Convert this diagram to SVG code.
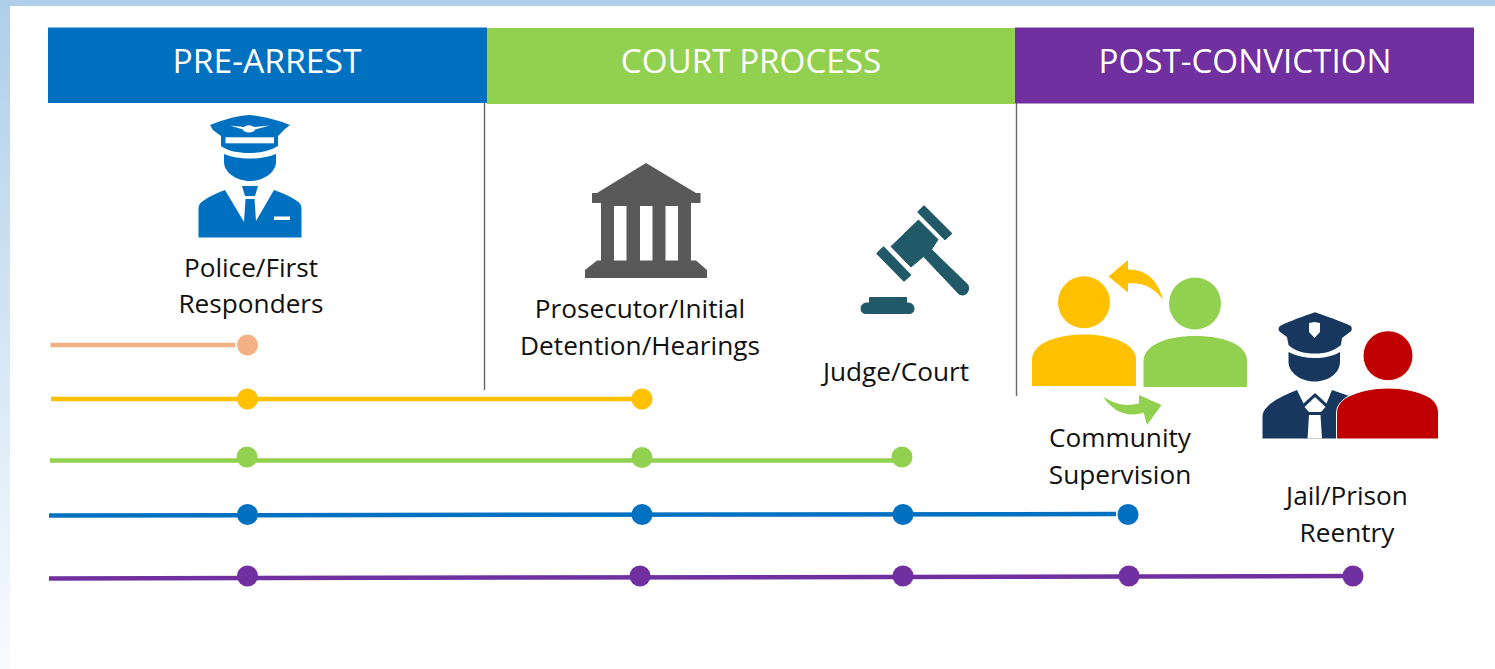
<svg xmlns="http://www.w3.org/2000/svg" width="1495" height="669" viewBox="0 0 1495 669">
<defs>
<linearGradient id="bg" x1="0" y1="0" x2="0" y2="1"><stop offset="0" stop-color="#aecee9"/><stop offset="0.7" stop-color="#e3eff9"/><stop offset="1" stop-color="#f8fbfe"/></linearGradient>
</defs>
<style>
text{font-family:"Open Sans","Noto Sans","Liberation Sans",sans-serif;fill:#111}
.hd{font-size:33.2px;fill:#fff;text-anchor:middle}
.lb{font-size:26.2px;text-anchor:middle}
.ln{fill:none;stroke-width:4.5}
.dv{stroke:#666;stroke-width:1.4}
</style>
<rect width="1495" height="669" fill="#fff"/>
<rect width="10" height="669" fill="url(#bg)"/>
<rect width="1495" height="6" fill="#aecee9"/>
<g id="hdr-pre"><rect x="48" y="27.500" width="439" height="75.500" fill="#0070c0"/><text class="hd" x="267" y="72.500" style="font-size:33.7px">PRE-ARREST</text></g>
<g id="hdr-court"><rect x="487" y="28" width="528" height="76" fill="#92d050"/><text class="hd" x="751" y="72.500">COURT PROCESS</text></g>
<g id="hdr-post"><rect x="1015" y="27.500" width="459" height="76" fill="#7030a0"/><text class="hd" x="1245" y="72.500">POST-CONVICTION</text></g>
<g id="dividers"><line class="dv" x1="484.500" y1="103" x2="484.500" y2="390"/><line class="dv" x1="1016.500" y1="103" x2="1016.500" y2="396"/></g>
<g id="police">
<path fill="#0070c0" d="M249 115C262 116 278 120 290 125L285 129L278 136V146C270 151 260 153 249 153C238 153 228 151 221 146V136L213 130L210 125C222 120 236 116 249 115Z"/>
<rect x="225.500" y="137.300" width="48.500" height="6" fill="#fff"/>
<path fill="#fff" d="M230 125.500L244 127A5.500 3 0 0 1 254 127L270 125.500L255 129.500A6 3 0 0 1 243 129.500Z"/>
<path fill="#0070c0" d="M224 154C238 160 262 160 276 154V162C276 172 264 181 250 181C236 181 224 172 224 162Z"/>
<path fill="#0070c0" d="M225 190L244 222L245.500 199H254.500L256 221L274 190C282 193 290 196 297 201C300 203 301.500 205 301.500 209V237.500H198.500V209C198.500 205 200 203 203 201C210 196 217 193 225 190Z"/>
<path fill="#0070c0" d="M242 186H258L255 196H245Z"/>
<rect x="274" y="216.500" width="16" height="3.500" fill="#fff"/>
<text class="lb"><tspan x="251" y="277">Police/First</tspan><tspan x="251" y="313">Responders</tspan></text>
</g>
<g id="prosecutor">
<path fill="#595959" d="M646 163L696 193H700.500V203H691V260.500H696L707 270V278H585V270L597 260.500H601V203H592V193H597Z"/>
<path fill="#fff" d="M614 206H626.500V260.500H614ZM640 206H652.500V260.500H640ZM665.500 206H678V260.500H665.500Z"/>
<text class="lb"><tspan x="640" y="318">Prosecutor/Initial</tspan><tspan x="640" y="355">Detention/Hearings</tspan></text>
</g>
<g id="judge" fill="#215968" stroke="#215968" stroke-width="2" stroke-linejoin="round">
<path d="M918.500 220L938 239.500L931.500 249.500L968 285Q970 290 966.500 293.500Q963 296.500 959 294L923.500 256.500L911 267L891 246.500Z" stroke-width="1"/>
<path d="M924 206.500L951 233.500L945 239L918.500 212Z"/>
<path d="M883.500 247.500L910 275L904 280.500L877.500 253.500Z"/>
<path d="M869.500 297.500H906.500V303H909Q914 304 914 308.500Q914 313.500 909 313.500H866Q861 313.500 861 308.500Q861 304 866 303H869.500Z" stroke-width="1"/>
<text class="lb" x="896" y="381" stroke="none" style="fill:#111">Judge/Court</text>
</g>
<g id="community">
<circle cx="1084" cy="302.300" r="26" fill="#ffc000"/>
<path fill="#ffc000" d="M1032 386V360C1032 353 1036 348 1042 344C1054 337 1068 334.500 1084 334.500C1100 334.500 1114 337 1126 344C1132 348 1136 353 1136 360V386Z"/>
<circle cx="1195" cy="303.500" r="26" fill="#92d050"/>
<path fill="#92d050" d="M1143.500 387V361C1143.500 354 1148 349 1154 345C1166 338 1180 336 1195 336C1211 336 1225 338 1237 345C1243 349 1247 354 1247 361V387Z"/>
<path fill="#ffc000" d="M1163 300C1154 287 1142 282 1128 283.500V292.500L1108.500 276.500L1128 260V269.500C1146 269 1158 280 1163 300Z"/>
<path fill="#92d050" d="M1103 396.500C1114 404 1126 407 1139 403.500V395L1161.500 405L1147 425L1143.500 412.500C1128 418 1113 412 1103 396.500Z"/>
<text class="lb"><tspan x="1120" y="447">Community</tspan><tspan x="1120" y="484">Supervision</tspan></text>
</g>
<g id="reentry">
<path fill="#17375e" d="M1315 312.300C1326 316 1340 321 1351 326Q1353 330 1350 332L1342 338L1341 345C1334 351 1326 353.500 1315 353.500C1304 353.500 1294 351 1288.500 345L1287 337L1280 332Q1277 329 1280 326C1290 321 1304 316 1315 312.300Z"/>
<path fill="#fff" d="M1309 323L1314.500 322L1320 323V332L1314.500 338L1309 332Z"/>
<path fill="#17375e" d="M1288.500 352C1304 360 1326 360 1340 352V362C1340 372 1330 381.500 1314.500 381.500C1300 381.500 1288.500 372 1288.500 362Z"/>
<path fill="#17375e" d="M1297 390L1303.500 403.500L1315 393L1326.500 403.500L1332 390L1352 397L1340 438.500H1262.500V417C1262.500 411 1266 408 1270 404C1278 398 1287 394 1297 390Z"/>
<path fill="#fff" d="M1315 397L1325.500 407L1321 412H1309L1304.500 407Z"/>
<rect x="1307.500" y="412" width="15" height="3" fill="#17375e"/>
<path fill="#fff" d="M1309 415H1320.500L1322 438.500H1307.500Z"/>
<circle cx="1388" cy="355.700" r="25" fill="#c00000" stroke="#fff" stroke-width="1"/>
<path fill="#c00000" stroke="#fff" stroke-width="1" d="M1336.500 439V413C1336.500 406 1341 401 1347 397C1359 391 1373 388 1388 388C1403 388 1418 391 1429 397C1435 401 1438.500 406 1438.500 413V439Z"/>
<text class="lb"><tspan x="1347" y="505">Jail/Prison</tspan><tspan x="1347" y="542">Reentry</tspan></text>
</g>
<g id="connectors">
<g id="line-1"><path class="ln" stroke="#f4b183" d="M50.500 345H235.500"/><circle cx="247.500" cy="345" r="10.500" fill="#f4b183"/></g>
<g id="line-2" fill="#ffc000"><path class="ln" stroke="#ffc000" d="M51 399H642"/><circle cx="247.500" cy="399" r="10.500"/><circle cx="642" cy="399" r="10.500"/></g>
<g id="line-3" fill="#92d050"><path class="ln" stroke="#92d050" d="M50 460.500L902 460.500"/><circle cx="247" cy="457" r="10.500"/><circle cx="642" cy="457.500" r="10.500"/><circle cx="902" cy="457" r="10.500"/></g>
<g id="line-4" fill="#0070c0"><path class="ln" stroke="#0070c0" d="M49 515.500L1116 514"/><circle cx="247.500" cy="514.500" r="10.500"/><circle cx="642" cy="514.500" r="10.500"/><circle cx="903" cy="514.500" r="10.500"/><circle cx="1128" cy="514.500" r="10.500"/></g>
<g id="line-5" fill="#7030a0"><path class="ln" stroke="#7030a0" d="M49 578.500L1353 576"/><circle cx="247.500" cy="576" r="10.500"/><circle cx="640" cy="576" r="10.500"/><circle cx="903" cy="576" r="10.500"/><circle cx="1129" cy="576" r="10.500"/><circle cx="1353" cy="576" r="10.500"/></g>
</g>
</svg>
